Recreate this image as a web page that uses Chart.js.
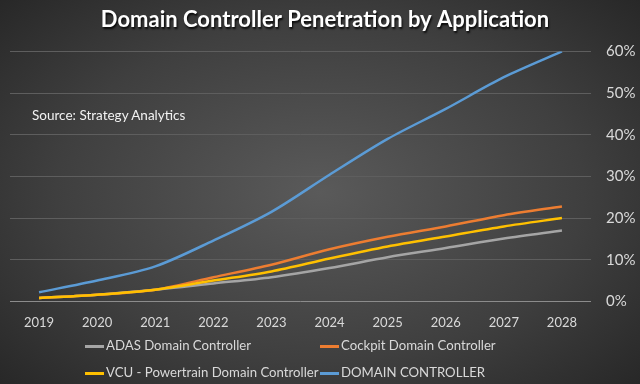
<!DOCTYPE html>
<html>
<head>
<meta charset="utf-8">
<script src="https://cdn.jsdelivr.net/npm/chart.js@4/dist/chart.umd.min.js"></script>
<style>
  html, body { margin: 0; padding: 0; }
  body { width: 640px; height: 384px; overflow: hidden; }
  #wrap {
    position: relative; width: 640px; height: 384px;
    background: radial-gradient(ellipse 75% 80% at 50% 50%, #5a5a5a 0%, #3f3f3f 55%, #222 100%);
    font-family: Lato, "Open Sans", sans-serif;
  }
  #source { position: absolute; left: 32px; top: 107px; color: #f2f2f2; font-size: 13.5px; }
  #legend { position: absolute; left: 0; top: 335px; width: 640px; color: #d9d9d9; font-size: 13.2px; }
  .item { position: absolute; height: 20px; line-height: 20px; white-space: nowrap; }
  .item i { display: inline-block; width: 19px; height: 3px; vertical-align: middle; margin-right: 2px; }
</style>
</head>
<body>
<div id="wrap">
  <canvas id="canvas" width="640" height="384"></canvas>
  <div id="source">Source: Strategy Analytics</div>
  <div id="legend"></div>
</div>
<script>
var years = ['2019', '2020', '2021', '2022', '2023', '2024', '2025', '2026', '2027', '2028'];
var adas = [0.8, 1.6, 2.8, 4.3, 5.8, 8.0, 10.6, 12.8, 15.1, 17.0];
var cockpit = [0.8, 1.6, 2.8, 5.8, 8.8, 12.5, 15.5, 18.0, 20.7, 22.8];
var vcu = [0.8, 1.6, 2.8, 5.0, 7.2, 10.3, 13.2, 15.6, 18.0, 20.0];
var domain = [2.2, 5.0, 8.4, 14.6, 21.5, 30.4, 39.0, 46.2, 53.8, 60.0];
var seriesNames = ['ADAS Domain Controller', 'Cockpit Domain Controller', 'VCU - Powertrain Domain Controller', 'DOMAIN CONTROLLER'];
var seriesColors = ['#a5a5a5', '#ed7d31', '#ffc000', '#5b9bd5'];

var series = [adas, cockpit, vcu, domain];
var datasets = [];
for (var i = 0; i < series.length; i++) {
    datasets.push({
        label: seriesNames[i],
        data: series[i],
        borderColor: seriesColors[i],
        backgroundColor: seriesColors[i],
        borderWidth: 2.5,
        pointRadius: 0,
        tension: 0.3,
        fill: false,
        order: series.length - i // later series drawn on top
    });
}

var ctx = document.getElementById('canvas').getContext('2d');
var myChart = new Chart(ctx, {
    type: 'line',
    data: { labels: years, datasets: datasets },
    options: {
        responsive: false,
        animation: false,
        layout: { padding: { left: 10, right: 0, top: 0, bottom: 47 } },
        plugins: {
            legend: { display: false },
            tooltip: { enabled: false },
            title: {
                display: true,
                text: 'Domain Controller Penetration by Application',
                color: '#ffffff',
                font: { family: 'Lato', size: 22, weight: 'bold' },
                padding: { top: 7, bottom: 18 }
            }
        },
        scales: {
            x: {
                offset: true,
                grid: { display: false },
                border: { display: false },
                ticks: { color: '#d9d9d9', font: { family: 'Lato', size: 13 }, padding: 6, maxRotation: 0 }
            },
            y: {
                position: 'right',
                min: 0,
                max: 60,
                afterFit: function (scale) { scale.width = 49; },
                border: { display: false },
                grid: {
                    drawTicks: false,
                    lineWidth: 1,
                    color: function (c) { return c.tick && c.tick.value === 0 ? '#8c8c8c' : '#5e5e5e'; }
                },
                ticks: {
                    stepSize: 10,
                    color: '#d9d9d9',
                    font: { family: 'Lato', size: 15 },
                    padding: 15,
                    callback: function (v) { return v + '%'; }
                }
            }
        }
    }
});

// dark drop shadow under the title text
var tb = myChart.titleBlock;
if (tb) {
    var origDraw = tb.draw.bind(tb);
    tb.draw = function () {
        ctx.save();
        ctx.shadowColor = 'rgba(0,0,0,0.85)';
        ctx.shadowOffsetX = 1;
        ctx.shadowOffsetY = 2;
        ctx.shadowBlur = 2;
        origDraw();
        ctx.restore();
    };
    myChart.draw();
}

// legend in two fixed columns, like the original
var legendEl = document.getElementById('legend');
var colX = [85, 320];
for (var i = 0; i < seriesNames.length; i++) {
    var div = document.createElement('div');
    div.className = 'item';
    div.style.left = colX[i % 2] + 'px';
    div.style.top = (Math.floor(i / 2) * 27) + 'px';
    div.innerHTML = '<i style="background:' + seriesColors[i] + '"></i>' + seriesNames[i];
    legendEl.appendChild(div);
}
</script>
</body>
</html>
